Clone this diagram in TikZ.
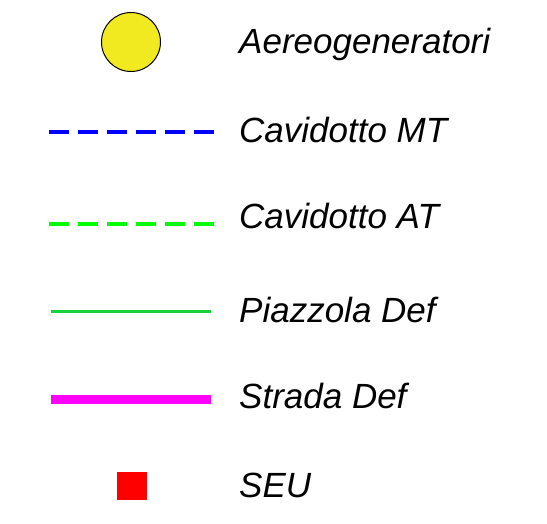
\documentclass[tikz,border=0pt]{standalone}
\usepackage{fontspec}
\setmainfont{Liberation Sans}
\definecolor{turbinegelb}{RGB}{242,234,32}
\definecolor{piazzolagreen}{RGB}{20,210,60}
\definecolor{stradamagenta}{RGB}{255,0,255}
\definecolor{cavidottoblu}{RGB}{0,0,255}
\definecolor{cavidottoverde}{RGB}{0,255,0}
\begin{document}
\begin{tikzpicture}[x=1pt,y=-1pt,
    legtext/.style={anchor=base west, inner sep=0pt, font=\fontsize{35}{42}\selectfont\itshape},
    cavidotto/.style={line width=4.5pt, dash pattern=on 20pt off 9pt}]
    \useasboundingbox (0,0) rectangle (547,523);
    % simboli
    \draw[fill=turbinegelb, line width=1pt] (131,42) circle (29.5pt);
    \draw[cavidotto, color=cavidottoblu] (49,132) -- (214,132);
    \draw[cavidotto, color=cavidottoverde] (49,224) -- (214,224);
    \draw[color=piazzolagreen, line width=3pt] (51,311.5) -- (211,311.5);
    \draw[color=stradamagenta, line width=9pt] (51,399.5) -- (211,399.5);
    \fill[red] (117,472) rectangle (147,500);
    % testi
    \node[legtext] (aereo) at (239,53) {Aereogeneratori};
    \node[legtext] (mt) at (239,142) {Cavidotto MT};
    \node[legtext] (at) at (239,228) {Cavidotto AT};
    \node[legtext] (piazzola) at (239,322) {Piazzola Def};
    \node[legtext] (strada) at (239,408) {Strada Def};
    \node[legtext] (seu) at (239,497) {SEU};
\end{tikzpicture}
\end{document}
